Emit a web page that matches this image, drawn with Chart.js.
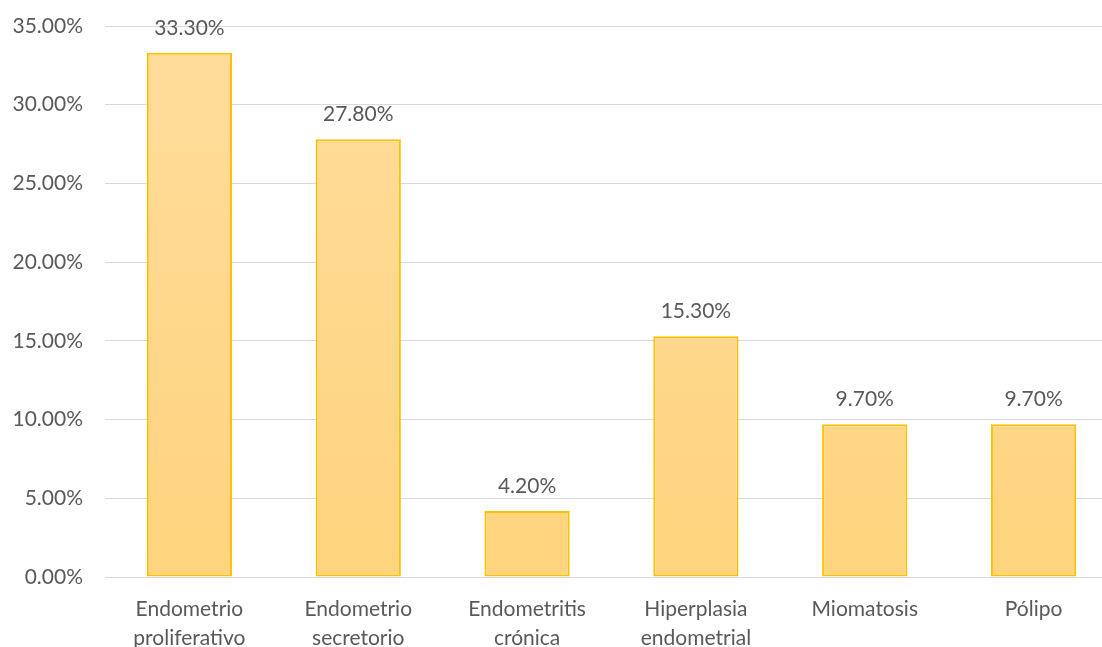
<!DOCTYPE html>
<html>
<head>
<meta charset="utf-8">
<script src="https://cdn.jsdelivr.net/npm/chart.js@4.4.1/dist/chart.umd.min.js"></script>
<style>
  html, body { margin: 0; padding: 0; background: #fff; overflow: hidden; }
  #wrap { width: 1120px; height: 647px; }
</style>
</head>
<body>
<div id="wrap"><canvas id="chart"></canvas></div>
<script>
const categories = [
  ['Endometrio', 'proliferativo'],
  ['Endometrio', 'secretorio'],
  ['Endometritis', 'crónica'],
  ['Hiperplasia', 'endometrial'],
  ['Miomatosis'],
  ['Pólipo'],
];
const percentages = [33.3, 27.8, 4.2, 15.3, 9.7, 9.7];
const yTicks = { min: 0, max: 35, step: 5 };

const fontFamily = "Lato, 'Open Sans', sans-serif";
const textColor = '#595959';

// draws the value above every bar
const valueLabels = {
  id: 'valueLabels',
  afterDatasetsDraw(chart) {
    const ctx = chart.ctx;
    const meta = chart.getDatasetMeta(0);
    ctx.save();
    ctx.font = '21px ' + fontFamily;
    ctx.fillStyle = textColor;
    ctx.textAlign = 'center';
    ctx.textBaseline = 'middle';
    meta.data.forEach((bar, i) => {
      ctx.fillText(percentages[i].toFixed(2) + '%', bar.x, bar.y - 25);
    });
    ctx.restore();
  },
};

function barFill(context) {
  const area = context.chart.chartArea;
  if (!area) return '#FFD98F';
  const g = context.chart.ctx.createLinearGradient(0, area.top, 0, area.bottom);
  g.addColorStop(0, '#FFDC9C');
  g.addColorStop(1, '#FFD47E');
  return g;
}

const ctx = document.getElementById('chart');
new Chart(ctx, {
  type: 'bar',
  data: {
    labels: categories,
    datasets: [{
      data: percentages,
      backgroundColor: barFill,
      borderColor: '#FFC000',
      borderWidth: 2,
      borderSkipped: false,
      categoryPercentage: 1,
      barPercentage: 0.505,
    }],
  },
  options: {
    responsive: true,
    maintainAspectRatio: false,
    animation: false,
    devicePixelRatio: 1,
    layout: { padding: { top: 26, right: 2, bottom: 0, left: 0 } },
    plugins: {
      legend: { display: false },
      tooltip: { enabled: false },
    },
    scales: {
      x: {
        grid: { display: false },
        border: { display: true, color: '#D9D9D9', width: 1 },
        ticks: {
          color: textColor,
          font: { family: fontFamily, size: 21, lineHeight: 1.38 },
          padding: 10,
          maxRotation: 0,
          autoSkip: false,
        },
        afterFit(scale) { scale.height = 70; },
      },
      y: {
        min: yTicks.min,
        max: yTicks.max,
        grid: { color: '#D9D9D9', lineWidth: 1, drawTicks: false },
        border: { display: false },
        ticks: {
          stepSize: yTicks.step,
          color: textColor,
          font: { family: fontFamily, size: 21 },
          padding: 22,
          callback: (v) => v.toFixed(2) + '%',
        },
        afterFit(scale) {
          scale.width = 105;
          scale.paddingTop = 0;
          scale.paddingBottom = 0;
        },
      },
    },
  },
  plugins: [valueLabels],
});
</script>
</body>
</html>
